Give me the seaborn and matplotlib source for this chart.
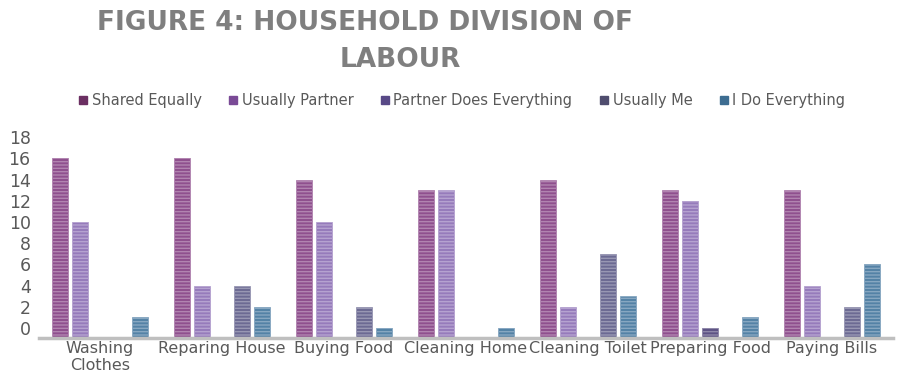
import numpy as np
import pandas as pd
import matplotlib
matplotlib.use("Agg")
import matplotlib.pyplot as plt
import matplotlib.colors as mcolors
from matplotlib.patches import Patch
import seaborn as sns

# Data (None = no bar drawn)
tasks = ["Washing\nClothes", "Reparing House", "Buying Food", "Cleaning Home",
         "Cleaning Toilet", "Preparing Food", "Paying Bills"]
responses = ["Shared Equally", "Usually Partner", "Partner Does Everything",
             "Usually Me", "I Do Everything"]
shared_equally = [16, 16, 14, 13, 14, 13, 13]
usually_partner = [10, 4, 10, 13, 2, 12, 4]
partner_does_everything = [None, None, None, None, None, 0, None]
usually_me = [None, 4, 2, None, 7, None, 2]
i_do_everything = [1, 2, 0, 0, 3, 1, 6]

bar_colors = ["#9a4598", "#9470c6", "#584b8c", "#66639a", "#4683b4"]
legend_colors = ["#6b2f62", "#7a4a96", "#584987", "#4f4d6e", "#3d6d91"]
yticks = list(range(0, 20, 2))
floor = -0.95

series = [shared_equally, usually_partner, partner_does_everything,
          usually_me, i_do_everything]
rows = []
for resp, vals in zip(responses, series):
    for task, v in zip(tasks, vals):
        rows.append({"task": task, "response": resp,
                     "count": np.nan if v is None else v})
df = pd.DataFrame(rows)

sns.set_style("white")
plt.rcParams["font.family"] = ["DejaVu Sans"]
plt.rcParams["hatch.linewidth"] = 1.0

fig = plt.figure(figsize=(9.05, 3.87), dpi=100)
ax = fig.add_axes([39 / 905, 1 - 338 / 387, 854 / 905, 204 / 387])

sns.barplot(data=df, x="task", y="count", hue="response", order=tasks,
            hue_order=responses, palette=bar_colors, width=0.82, gap=0.18,
            errorbar=None, legend=False, ax=ax)

# bars sit on the chart floor, below the zero line
for p in ax.patches:
    h = p.get_height()
    if not np.isfinite(h):
        continue
    p.set_y(floor)
    p.set_height(h - floor)
    face = np.array(mcolors.to_rgb(p.get_facecolor()))
    stripe = face + (1 - face) * 0.3
    p.set_edgecolor(stripe)
    p.set_hatch("-----")
    p.set_linewidth(0.6)

ax.set_ylim(floor, 18.3)
ax.set_xlim(-0.5, len(tasks) - 0.5)
ax.set_yticks(yticks)
ax.set_xlabel("")
ax.set_ylabel("")
ax.tick_params(axis="y", length=0, pad=6, labelsize=12.5, labelcolor="#595959")
ax.tick_params(axis="x", length=0, pad=2, labelsize=11.5, labelcolor="#595959")
for s in ["top", "right", "left"]:
    ax.spines[s].set_visible(False)
ax.spines["bottom"].set_color("#bfbfbf")
ax.spines["bottom"].set_linewidth(2.5)

handles = [Patch(facecolor=c, edgecolor=c) for c in legend_colors]
fig.legend(handles, responses, loc="upper left", ncol=5, frameon=False,
           bbox_to_anchor=(66 / 905, 1 - 80 / 387), fontsize=10.5,
           handlelength=0.55, handleheight=0.55, handletextpad=0.3,
           columnspacing=1.9, labelcolor="#595959")

fig.text(365 / 905, 1 - 23 / 387, "FIGURE 4: HOUSEHOLD DIVISION OF",
         ha="center", va="center", fontsize=19, fontweight="bold",
         color="#7f7f7f")
fig.text(400 / 905, 1 - 60 / 387, "LABOUR", ha="center", va="center",
         fontsize=19, fontweight="bold", color="#7f7f7f")

fig.savefig("out.png", dpi=100)
